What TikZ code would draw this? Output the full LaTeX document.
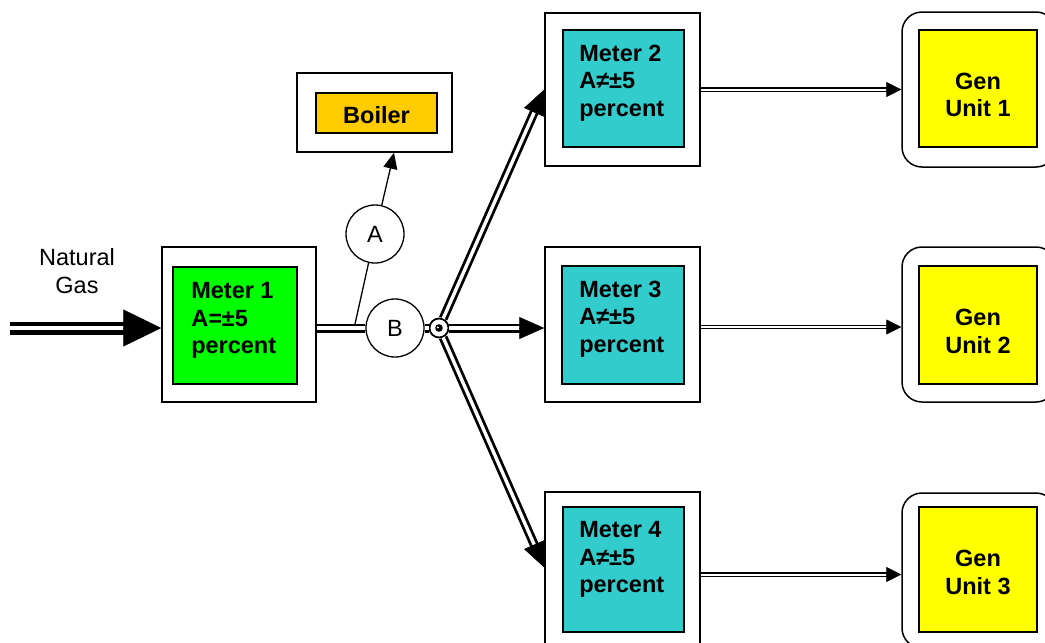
\documentclass[tikz,border=0pt]{standalone}
\usepackage{fontspec}
\setmainfont{Liberation Sans}
\usetikzlibrary{arrows.meta,calc}

\definecolor{metergreen}{HTML}{00FF00}
\definecolor{meterteal}{HTML}{33CCCC}
\definecolor{boilerorange}{HTML}{FFCC00}
\definecolor{genyellow}{HTML}{FFFF00}

\tikzset{
  outerbox/.style={draw, line width=1.5pt, fill=white, inner sep=0pt,
                   minimum width=#1},
  genbox/.style={outerbox=154pt, rounded corners=20pt, minimum height=155pt},
  innerbox/.style={draw, line width=1.8pt, inner sep=0pt},
  labeltext/.style={inner sep=0pt, align=left,
                    font=\fontsize{23.5}{27.5}\selectfont\bfseries},
  gentext/.style={inner sep=0pt, align=center,
                  font=\fontsize{23.5}{27.5}\selectfont\bfseries},
  plaintext/.style={inner sep=0pt, align=center,
                    font=\fontsize{23.5}{28}\selectfont},
  valve/.style={circle, draw, line width=1.3pt, fill=white, minimum size=58pt,
                inner sep=0pt, font=\fontsize{23.5}{28}\selectfont},
  pipe/.style={double, line width=2.8pt, double distance=3.4pt},
  mainpipe/.style={double, line width=4.5pt, double distance=4pt},
  feed/.style={double, line width=1.3pt, double distance=2pt},
  pipetip/.style={-{Triangle[length=25pt,width=22pt]}, line width=0.5pt},
  maintip/.style={-{Triangle[length=38pt,width=37pt]}, line width=0.5pt},
  feedtip/.style={-{Triangle[length=15pt,width=15pt]}, line width=0.5pt},
  branch/.style={line width=1.3pt},
}

\begin{document}
\begin{tikzpicture}[x=1pt,y=-1pt]
\useasboundingbox (0,0) rectangle (1045,643);
\clip (0,0) rectangle (1045,643);

% ---- meters -------------------------------------------------------
\node[outerbox=154pt, minimum height=155pt] (m1) at (239,324.5) {};
\node[innerbox, fill=metergreen, minimum width=124pt, minimum height=117pt] (m1i) at (235,325.5) {};
\node[labeltext, anchor=north west] (t1) at ([xshift=19pt,yshift=-16.3pt]m1i.north west) {Meter 1\\A=±5\\percent};

\node[outerbox=155pt, minimum height=153pt] (m2) at (622.5,89.5) {};
\node[innerbox, fill=meterteal, minimum width=121pt, minimum height=117pt] (m2i) at (623.5,88.5) {};
\node[labeltext, anchor=north west] (t2) at ([xshift=17pt,yshift=-15.5pt]m2i.north west) {Meter 2\\A≠±5\\percent};

\node[outerbox=155pt, minimum height=155pt] (m3) at (622.5,324.5) {};
\node[innerbox, fill=meterteal, minimum width=122pt, minimum height=118pt] (m3i) at (623,325) {};
\node[labeltext, anchor=north west] (t3) at ([xshift=18pt,yshift=-15.5pt]m3i.north west) {Meter 3\\A≠±5\\percent};

\node[outerbox=155pt, minimum height=155pt] (m4) at (622.5,569.5) {};
\node[innerbox, fill=meterteal, minimum width=121pt, minimum height=125pt] (m4i) at (623.5,569.5) {};
\node[labeltext, anchor=north west] (t4) at ([xshift=17pt,yshift=-15.5pt]m4i.north west) {Meter 4\\A≠±5\\percent};

% ---- boiler -------------------------------------------------------
\node[outerbox=155pt, minimum height=79pt] (bo) at (374.5,112.5) {};
\node[innerbox, fill=boilerorange, minimum width=121pt, minimum height=40pt] (boi) at (376.5,113) {};
\node[gentext] (bt) at ([yshift=-2pt]boi.center) {Boiler};

% ---- generating units ---------------------------------------------
\node[genbox] (g1) at (979,89.5) {};
\node[innerbox, fill=genyellow, minimum width=118pt, minimum height=117pt] (g1i) at (978,88.5) {};
\node[gentext, anchor=north] (gt1) at ([yshift=-43.5pt]g1i.north) {Gen\\Unit 1};

\node[genbox] (g2) at (979,324.5) {};
\node[innerbox, fill=genyellow, minimum width=118pt, minimum height=118pt] (g2i) at (978,325) {};
\node[gentext, anchor=north] (gt2) at ([yshift=-44pt]g2i.north) {Gen\\Unit 2};

\node[genbox] (g3) at (979,570.5) {};
\node[innerbox, fill=genyellow, minimum width=118pt, minimum height=125pt] (g3i) at (978,569.5) {};
\node[gentext, anchor=north] (gt3) at ([yshift=-44pt]g3i.north) {Gen\\Unit 3};

% ---- incoming gas -------------------------------------------------
\node[plaintext, anchor=north] (gas) at (77,248.5) {Natural\\Gas};
\coordinate (gasin) at (10,328);
\coordinate (m1in) at (m1.west |- gasin);
\draw[mainpipe, shorten >=34pt] (gasin) -- (m1in);
\draw[maintip] ($(m1in)!1pt!(gasin)$) -- (m1in);

% ---- valves and junction --------------------------------------------
\node[valve] (A) at (375,234) {A};
\node[valve] (B) at (395,328) {B};
\node[circle, draw, line width=1.8pt, fill=white, minimum size=19pt, inner sep=0pt] (J) at (439,328) {};
\fill (J) circle (3.8pt);
\fill[white] ([xshift=-1.2pt,yshift=0.6pt]J.center) circle (1.1pt);

\draw[pipe] (m1.east |- B) -- (B);
\draw[pipe] (B) -- (J);

% branch to the boiler through valve A
\coordinate (tap) at (355,324);
\coordinate (btip) at ([xshift=19.5pt]bo.south);
\draw[branch] (tap) -- (A);
\draw[branch, -{Triangle[length=16pt,width=14pt]}] (A) -- (btip);

% ---- pipes to the meters ------------------------------------------
\draw[pipe, shorten >=20pt] (J) -- (m2.west);
\draw[pipetip] ($(m2.west)!1pt!(J)$) -- (m2.west);

\coordinate (m3in) at (m3.west |- J);
\draw[pipe, shorten >=20pt] (J) -- (m3in);
\draw[pipetip] ($(m3in)!1pt!(J)$) -- (m3in);

\coordinate (m4in) at ([yshift=2pt]m4.west);
\draw[pipe, shorten >=20pt] (J) -- (m4in);
\draw[pipetip] ($(m4in)!1pt!(J)$) -- (m4in);

% ---- feeds to the generating units ----------------------------------
\coordinate (f1a) at (m2.east);
\coordinate (f1b) at (g1.west |- f1a);
\draw[feed, shorten >=12pt] (f1a) -- (f1b);
\draw[feedtip] ($(f1b)!1pt!(f1a)$) -- (f1b);

\coordinate (f2a) at (m3.east |- 0,327);
\coordinate (f2b) at (g2.west |- f2a);
\draw[feed, shorten >=12pt] (f2a) -- (f2b);
\draw[feedtip] ($(f2b)!1pt!(f2a)$) -- (f2b);

\coordinate (f3a) at (m4.east |- 0,574.5);
\coordinate (f3b) at (g3.west |- f3a);
\draw[feed, shorten >=12pt] (f3a) -- (f3b);
\draw[feedtip] ($(f3b)!1pt!(f3a)$) -- (f3b);
\end{tikzpicture}
\end{document}
